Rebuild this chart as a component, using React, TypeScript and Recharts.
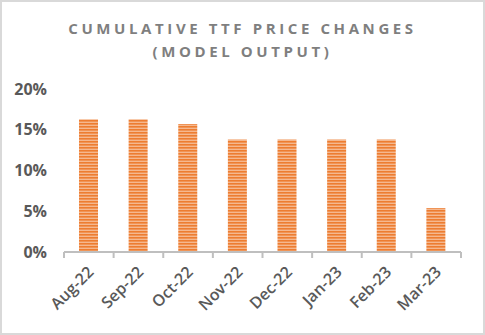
import { BarChart, Bar, XAxis, YAxis } from 'recharts';

const months = ['Aug-22', 'Sep-22', 'Oct-22', 'Nov-22', 'Dec-22', 'Jan-23', 'Feb-23', 'Mar-23'];
const priceChange = [0.163, 0.163, 0.157, 0.138, 0.138, 0.138, 0.138, 0.054];
const yTicks = [0, 0.05, 0.1, 0.15, 0.2];

const data = months.map((m, i) => ({ month: m, value: priceChange[i] }));

const AXIS_GREY = '#bfbfbf';
const LABEL_GREY = '#595959';
const FONT = '"Open Sans", "Liberation Sans", sans-serif';

function MonthTick(props: any) {
  const { x, y, payload, index } = props;
  const half = payload?.offset ?? 24.8;
  const last = index === months.length - 1;
  return (
    <g>
      <line x1={x - half} y1={y - 8} x2={x - half} y2={y - 2} stroke={AXIS_GREY} strokeWidth={2} />
      {last && <line x1={x + half} y1={y - 8} x2={x + half} y2={y - 2} stroke={AXIS_GREY} strokeWidth={2} />}
      <text
        x={x + 6}
        y={y + 13}
        textAnchor="end"
        transform={`rotate(-45, ${x + 6}, ${y + 13})`}
        fill={LABEL_GREY}
        fontSize={16}
        fontWeight={600}
        fontFamily={FONT}
      >
        {payload.value}
      </text>
    </g>
  );
}

export default function App() {
  return (
    <div
      style={{
        position: 'fixed',
        top: 0,
        left: 0,
        width: 485,
        height: 335,
        boxSizing: 'border-box',
        border: '2px solid #d9d9d9',
        background: '#fff',
        fontFamily: FONT,
      }}
    >
      <div
        style={{
          position: 'absolute',
          top: 15,
          left: 0,
          width: '100%',
          textAlign: 'center',
          color: '#7f7f7f',
          fontSize: 15,
          fontWeight: 'bold',
          letterSpacing: 3.6,
          lineHeight: '23px',
        }}
      >
        CUMULATIVE TTF PRICE CHANGES
        <br />
        (MODEL OUTPUT)
      </div>
      <div style={{ position: 'absolute', top: -2, left: -2 }}>
        <BarChart
          width={485}
          height={335}
          data={data}
          margin={{ top: 89, right: 24, bottom: 0, left: 0 }}
        >
          <defs>
            <pattern id="stripes" width={4} height={3} patternUnits="userSpaceOnUse">
              <rect width={4} height={3} fill="#f5b88f" />
              <rect width={4} height={1.6} fill="#ed7d31" />
            </pattern>
          </defs>
          <YAxis
            width={64}
            domain={[0, 0.2]}
            ticks={yTicks}
            axisLine={false}
            tickLine={false}
            tickMargin={11}
            tickFormatter={(v: number) => `${Math.round(v * 100)}%`}
            tick={{ fill: LABEL_GREY, fontSize: 16, fontWeight: 'bold', fontFamily: FONT }}
          />
          <XAxis
            dataKey="month"
            height={83}
            interval={0}
            axisLine={{ stroke: AXIS_GREY, strokeWidth: 2 }}
            tickLine={false}
            tick={<MonthTick />}
          />
          <Bar dataKey="value" fill="url(#stripes)" barSize={19} isAnimationActive={false} />
        </BarChart>
      </div>
    </div>
  );
}
